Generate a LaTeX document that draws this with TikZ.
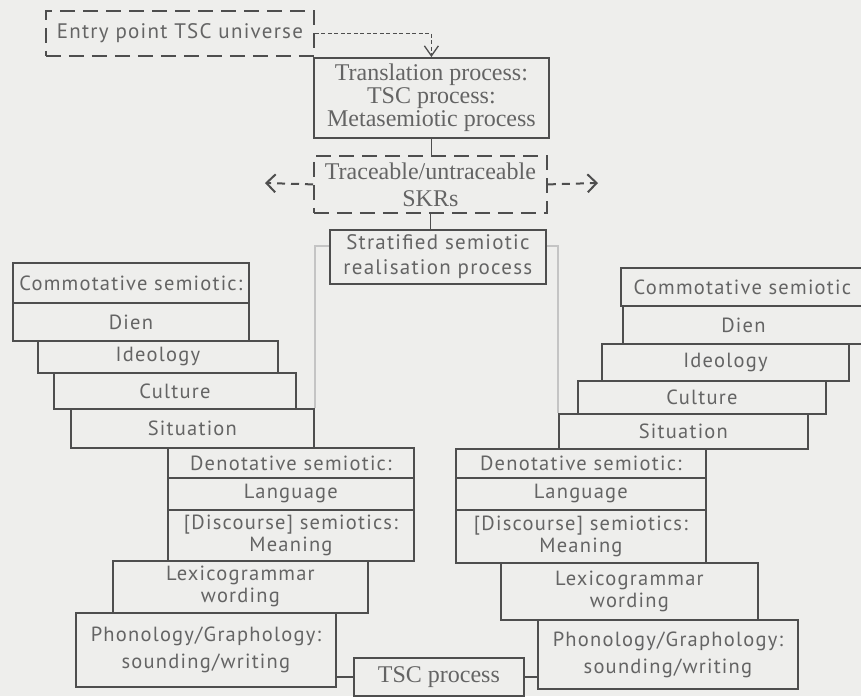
\documentclass[tikz,border=0pt]{standalone}
\usepackage{fontspec}
\setmainfont[LetterSpace=6]{PT Sans}
\newfontfamily\boxserif{Liberation Serif}
\usetikzlibrary{arrows.meta}

\definecolor{pagebg}{RGB}{238,238,236}
\definecolor{linecol}{RGB}{78,78,78}
\definecolor{textcol}{RGB}{100,100,100}
\definecolor{faintcol}{RGB}{196,196,196}

\begin{document}
\begin{tikzpicture}[
        x=1pt, y=-1pt,
        stack/.style={rectangle, draw=linecol, line width=1.8pt, inner sep=0pt, anchor=north west, align=center, text=textcol, font=\fontsize{20.5}{22}\selectfont},
        midbox/.style={stack, font=\boxserif\fontsize{24}{23}\selectfont},
        dashbox/.style={midbox, dash pattern=on 15pt off 8pt},
        link/.style={draw=linecol, line width=1.8pt},
        faintlink/.style={draw=faintcol, line width=1.6pt},
        dotarrow/.style={draw=linecol, line width=1.3pt, dash pattern=on 4pt off 2.5pt, -{Straight Barb[length=10pt, width=14pt]}},
        sidearrow/.style={draw=linecol, line width=2pt, dash pattern=on 8pt off 6pt, -{Straight Barb[length=9pt, width=18pt]}}
    ]
    \useasboundingbox (0,0) rectangle (861,696);
    \clip (0,0) rectangle (861,696);
    \fill[pagebg] (0,0) rectangle (861,696);

    % Central Column
    \node (entry) [dashbox, font=\fontsize{21}{22}\selectfont, minimum width=268, minimum height=45] at (45,10) {Entry point TSC universe};
    \node (translation) [midbox, minimum width=235, minimum height=80] at (313,57) {Translation process:\\TSC process:\\Metasemiotic process};
    \node (traceable) [dashbox, font=\boxserif\fontsize{24}{27}\selectfont, minimum width=233, minimum height=57] at (313,155) {Traceable/untraceable\\SKRs};
    \node (stratified) [stack, font=\fontsize{21}{25}\selectfont, minimum width=216, minimum height=54] at (329,229) {Stratified semiotic\\realisation process};
    \coordinate (skr_left) at (265,183);
    \coordinate (skr_right) at (598,183);

    % Left Stack
    \node (com_left) [stack, minimum width=236, minimum height=40] at (12,262) {Commotative semiotic:};
    \node (dien_left) [stack, minimum width=236, minimum height=38] at (12,302) {Dien};
    \node (ideology_left) [stack, minimum width=240, minimum height=32] at (37,340) {Ideology};
    \node (culture_left) [stack, minimum width=242, minimum height=36] at (53,372) {Culture};
    \node (situation_left) [stack, minimum width=243, minimum height=39] at (70,408) {Situation};
    \node (denotative_left) [stack, minimum width=246, minimum height=30] at (167,447) {Denotative semiotic:};
    \node (language_left) [stack, minimum width=246, minimum height=32] at (167,477) {Language};
    \node (discourse_left) [stack, minimum width=246, minimum height=51] at (167,509) {[Discourse] semiotics:\\Meaning};
    \node (lexico_left) [stack, minimum width=255, minimum height=52] at (112,560) {Lexicogrammar\\wording};
    \node (phono_left) [stack, font=\fontsize{20.5}{27}\selectfont, minimum width=260, minimum height=74] at (75,612) {Phonology/Graphology:\\sounding/writing};
    \node (tsc) [midbox, minimum width=170, minimum height=38] at (353,657) {TSC process};

    % Right Stack
    \node (com_right) [stack, minimum width=243, minimum height=38] at (620,267) {Commotative semiotic};
    \node (dien_right) [stack, minimum width=241, minimum height=38] at (622,305) {Dien};
    \node (ideology_right) [stack, minimum width=247, minimum height=37] at (601,343) {Ideology};
    \node (culture_right) [stack, minimum width=248, minimum height=33] at (577,380) {Culture};
    \node (situation_right) [stack, minimum width=249, minimum height=35] at (558,413) {Situation};
    \node (denotative_right) [stack, minimum width=250, minimum height=29] at (455,448) {Denotative semiotic:};
    \node (language_right) [stack, minimum width=250, minimum height=32] at (455,477) {Language};
    \node (discourse_right) [stack, minimum width=250, minimum height=53] at (455,509) {[Discourse] semiotics:\\Meaning};
    \node (lexico_right) [stack, minimum width=257, minimum height=57] at (500,562) {Lexicogrammar\\wording};
    \node (phono_right) [stack, font=\fontsize{20.5}{27}\selectfont, minimum width=260, minimum height=69] at (537,619) {Phonology/Graphology:\\sounding/writing};

    % Connectors
    \draw [dotarrow] (entry.east) -| (translation.north);
    \draw [link] (translation.south) -- (translation.south |- traceable.north);
    \draw [link] (traceable.south) -- (traceable.south |- stratified.north);
    \draw [sidearrow] (traceable.west) -- (skr_left);
    \draw [sidearrow] (traceable.east) -- (skr_right);
    \draw [faintlink] ([yshift=-17pt]stratified.north west) -| (situation_left.north east);
    \draw [faintlink] ([yshift=-17pt]stratified.north east) -| (situation_right.north west);
    \draw [link] (tsc.west) -- (tsc.west -| phono_left.east);
    \draw [link] (tsc.east) -- (tsc.east -| phono_right.west);

\end{tikzpicture}
\end{document}
